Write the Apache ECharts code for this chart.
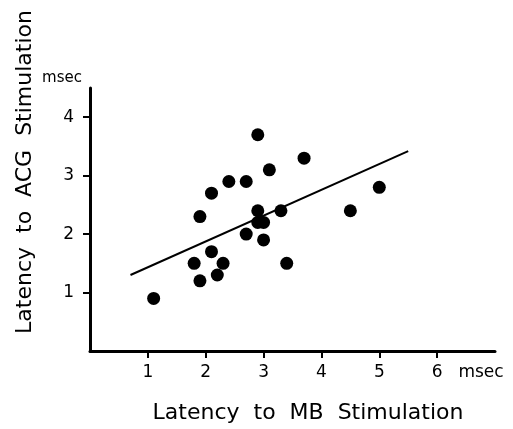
<!DOCTYPE html>
<html>
<head>
<meta charset="utf-8">
<script src="https://cdn.jsdelivr.net/npm/echarts@6/dist/echarts.min.js"></script>
<style>
  html, body { margin: 0; padding: 0; background: #fff; }
  #chart { width: 513px; height: 429px; }
</style>
</head>
<body>
<div id="chart"></div>
<script>
// 数据：MB 刺激潜伏期 (x) 与 ACG 刺激潜伏期 (y)，单位 msec
const mbLatency = [1.1, 1.8, 1.9, 2.1, 2.3, 2.2, 1.9, 2.1, 2.4, 2.7, 2.9, 3.1, 3.7, 2.9, 2.9, 3.0, 2.7, 3.0, 3.3, 3.4, 4.5, 5.0]
const acgLatency = [0.9, 1.5, 1.2, 1.7, 1.5, 1.3, 2.3, 2.7, 2.9, 2.9, 3.7, 3.1, 3.3, 2.4, 2.2, 2.2, 2.0, 1.9, 2.4, 1.5, 2.4, 2.8]
// 回归直线两端
const fitX = [0.7, 5.5]
const fitY = [1.3, 3.42]
const xTicks = [1, 2, 3, 4, 5, 6]
const yTicks = [1, 2, 3, 4]

const font = 'DejaVu Sans'
const myChart = echarts.init(document.getElementById('chart'))

const option = {
  backgroundColor: '#fff',
  animation: false,
  grid: { left: 90, top: 88, right: 18, bottom: 78 },
  xAxis: {
    type: 'value',
    min: 0,
    max: 7,
    interval: 1,
    splitLine: { show: false },
    axisLine: { lineStyle: { color: '#000', width: 3 } },
    axisTick: { length: 7, customValues: xTicks, lineStyle: { color: '#000', width: 2 } },
    axisLabel: {
      margin: 13,
      color: '#000',
      fontFamily: font,
      fontSize: 17,
      customValues: xTicks
    }
  },
  yAxis: {
    type: 'value',
    min: 0,
    max: 4.5,
    interval: 1,
    splitLine: { show: false },
    axisLine: { lineStyle: { color: '#000', width: 3 } },
    axisTick: { length: 7, customValues: yTicks, lineStyle: { color: '#000', width: 2 } },
    axisLabel: {
      margin: 16,
      color: '#000',
      fontFamily: font,
      fontSize: 17,
      customValues: yTicks
    }
  },
  graphic: [
    {
      type: 'text', x: 25, y: 172, rotation: Math.PI / 2,
      style: {
        text: 'Latency  to  ACG  Stimulation',
        fontFamily: font, fontSize: 22, fill: '#000',
        textAlign: 'center', textVerticalAlign: 'middle'
      }
    },
    {
      type: 'text', x: 308, y: 413,
      style: {
        text: 'Latency  to  MB  Stimulation',
        fontFamily: font, fontSize: 22, fill: '#000',
        textAlign: 'center', textVerticalAlign: 'middle'
      }
    },
    {
      type: 'text', x: 62, y: 78,
      style: {
        text: 'msec', fontFamily: font, fontSize: 15, fill: '#000',
        textAlign: 'center', textVerticalAlign: 'middle'
      }
    },
    {
      type: 'text', x: 481, y: 373,
      style: {
        text: 'msec', fontFamily: font, fontSize: 17, fill: '#000',
        textAlign: 'center', textVerticalAlign: 'middle'
      }
    }
  ],
  series: [
    {
      type: 'line',
      data: fitX.map((x, i) => [x, fitY[i]]),
      showSymbol: false,
      lineStyle: { color: '#000', width: 2 },
      z: 1
    },
    {
      type: 'scatter',
      data: mbLatency.map((x, i) => [x, acgLatency[i]]),
      symbolSize: 13,
      itemStyle: { color: '#000', opacity: 1 },
      z: 2
    }
  ]
}

myChart.setOption(option)
</script>
</body>
</html>
